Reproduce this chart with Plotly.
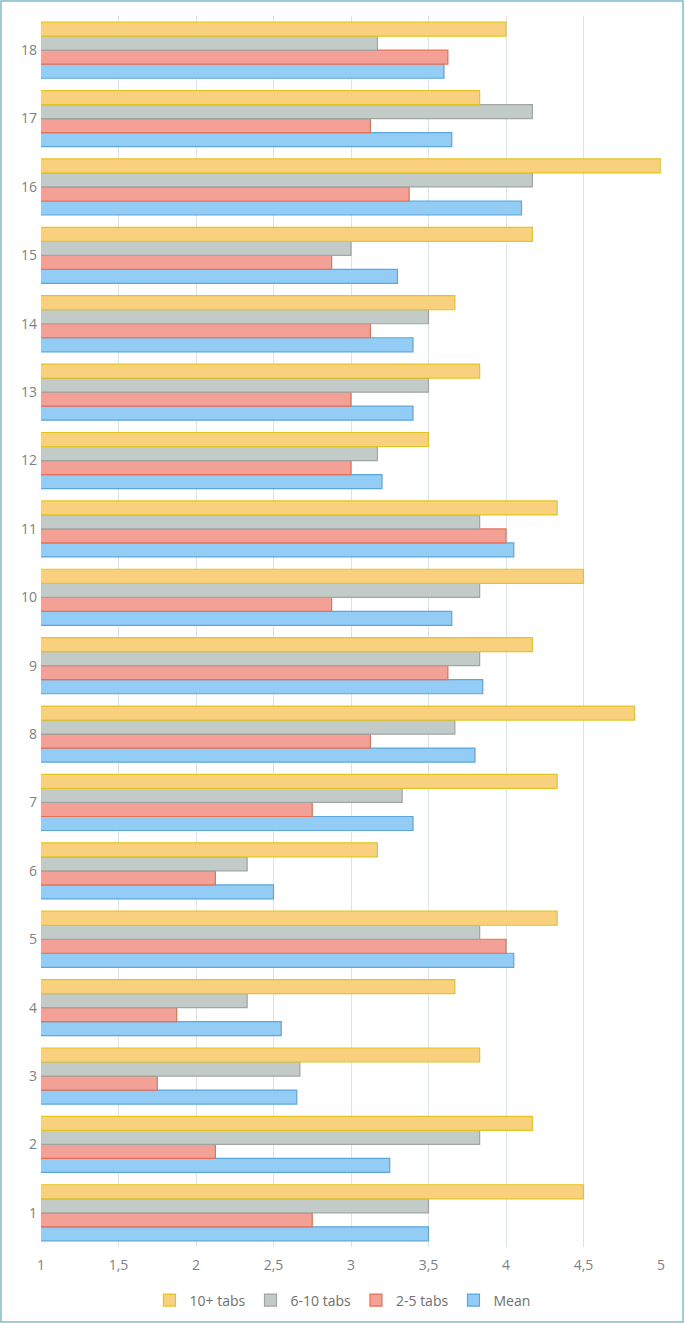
import plotly.graph_objects as go

categories = [str(i) for i in range(1, 19)]

mean_vals = [3.5, 3.25, 2.65, 2.55, 4.05, 2.5, 3.4, 3.8, 3.85, 3.65, 4.05, 3.2, 3.4, 3.4, 3.3, 4.1, 3.65, 3.6]
tabs_2_5 = [2.75, 2.125, 1.75, 1.875, 4.0, 2.125, 2.75, 3.125, 3.625, 2.875, 4.0, 3.0, 3.0, 3.125, 2.875, 3.375, 3.125, 3.625]
tabs_6_10 = [3.5, 3.83, 2.67, 2.33, 3.83, 2.33, 3.33, 3.67, 3.83, 3.83, 3.83, 3.17, 3.5, 3.5, 3.0, 4.17, 4.17, 3.17]
tabs_10p = [4.5, 4.17, 3.83, 3.67, 4.33, 3.17, 4.33, 4.83, 4.17, 4.5, 4.33, 3.5, 3.83, 3.67, 4.17, 5.0, 3.83, 4.0]

series_names = ["Mean", "2-5 tabs", "6-10 tabs", "10+ tabs"]
series_values = [mean_vals, tabs_2_5, tabs_6_10, tabs_10p]
fills = ["#93cdf6", "#f3a097", "#c3cbc9", "#f8d07e"]
edges = ["#5ba6da", "#e77054", "#9ea5a3", "#e3c520"]

x_tickvals = [1, 1.5, 2, 2.5, 3, 3.5, 4, 4.5, 5]
x_ticktext = ["1", "1,5", "2", "2,5", "3", "3,5", "4", "4,5", "5"]

fig = go.Figure()
for name, vals, fc, ec in zip(series_names, series_values, fills, edges):
    fig.add_trace(go.Bar(
        y=categories, x=vals, name=name, orientation="h",
        marker=dict(color=fc, line=dict(color=ec, width=1.2)),
    ))

W, H = 685, 1323
ml, mr, mt, mb = 41, 24, 16, 76
pw, ph = W - ml - mr, H - mt - mb

def px_to_paper_x(px):
    return (px - ml) / pw

def px_to_paper_y(py):
    return (H - mb - py) / ph

fig.update_layout(
    width=W, height=H,
    margin=dict(l=ml, r=mr, t=mt, b=mb, autoexpand=False),
    paper_bgcolor="white", plot_bgcolor="white",
    barmode="group", bargap=0.18, bargroupgap=0,
    font=dict(family="Open Sans", size=14, color="#7f7f7f"),
    showlegend=True,
    legend=dict(orientation="h", traceorder="reversed",
                xref="container", yref="container",
                x=0.5, xanchor="center", y=0.017, yanchor="middle",
                font=dict(size=14, color="#6f6f6f"),
                itemwidth=30, tracegroupgap=0),
    xaxis=dict(range=[1, 5], tickvals=x_tickvals, ticktext=x_ticktext,
               showgrid=True, gridcolor="#d9e4e8", gridwidth=1,
               zeroline=False, showline=False, ticks="", automargin=False,
               ticklabelstandoff=8,
               tickfont=dict(size=14, color="#7f7f7f")),
    yaxis=dict(type="category", categoryorder="array", categoryarray=categories,
               showgrid=False, zeroline=False, showline=False, ticks="",
               automargin=False, ticklabelstandoff=3,
               tickfont=dict(size=14, color="#7f7f7f")),
    shapes=[dict(type="rect", xref="paper", yref="paper",
                 x0=px_to_paper_x(1), x1=px_to_paper_x(683),
                 y0=px_to_paper_y(1322), y1=px_to_paper_y(1),
                 line=dict(color="#7fbcc9", width=1.5), fillcolor="rgba(0,0,0,0)",
                 layer="above")],
)

fig.write_html("out.html",
               config={"displayModeBar": False},
               post_script="document.body.style.margin='0';document.body.style.padding='0';")
